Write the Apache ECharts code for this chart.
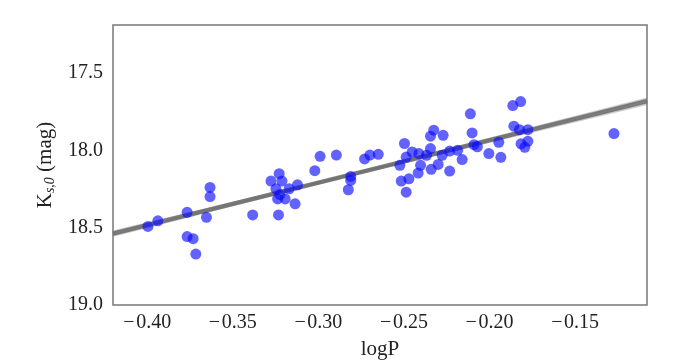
<!DOCTYPE html>
<html>
<head>
<meta charset="utf-8">
<script src="https://cdn.jsdelivr.net/npm/echarts@6/dist/echarts.min.js"></script>
<style>html,body{margin:0;padding:0;background:#fff;}#c{width:685px;height:363px;}</style>
</head>
<body>
<div id="c"></div>
<script>
// Data
const logP = [-0.3996,-0.3938,-0.3767,-0.3767,-0.3732,-0.3716,-0.3654,-0.3633,-0.3633,-0.3384,
  -0.3277,-0.3229,-0.3213,-0.3248,-0.3225,-0.3238,-0.3194,-0.3171,-0.3122,-0.3136,
  -0.3233,-0.3021,-0.2990,-0.2895,-0.2811,-0.2811,-0.2825,-0.2730,-0.2699,-0.2650,
  -0.2524,-0.2497,-0.2487,-0.2516,-0.2471,-0.2487,-0.2452,-0.2413,-0.2403,-0.2417,
  -0.2368,-0.2345,-0.2345,-0.2326,-0.2271,-0.2341,-0.2300,-0.2277,-0.2233,-0.2233,
  -0.2186,-0.2160,-0.2112,-0.2102,-0.2091,-0.2071,-0.2004,-0.1946,-0.1934,-0.1864,
  -0.1818,-0.1858,-0.1825,-0.1776,-0.1776,-0.1816,-0.1794,-0.1273];
const Ks0 = [18.492,18.456,18.401,18.558,18.571,18.671,18.433,18.240,18.299,18.418,
  18.199,18.151,18.199,18.249,18.286,18.314,18.314,18.249,18.223,18.346,
  18.418,18.132,18.039,18.031,18.169,18.195,18.255,18.056,18.031,18.026,
  18.097,17.956,18.044,18.199,18.184,18.271,18.011,18.021,18.097,18.147,
  18.032,17.989,17.909,17.870,17.903,18.123,18.091,18.032,18.005,18.134,
  18.000,18.060,17.764,17.888,17.964,17.977,18.021,17.948,18.045,17.711,
  17.685,17.844,17.867,17.867,17.942,17.958,17.981,17.892];
const fitX = [-0.42, -0.108];
const fitY = [18.539, 17.682];
const fitLowY = [18.550, 17.668];
const fitHighY = [18.528, 17.698];
const xTicks = [-0.40, -0.35, -0.30, -0.25, -0.20, -0.15];
const yTicks = [17.5, 18.0, 18.5, 19.0];

const pts = logP.map((x, i) => [x, Ks0[i]]);
const pair = (ys) => fitX.map((x, i) => [x, ys[i]]);

const FONT = 'Liberation Serif';
const chart = echarts.init(document.getElementById('c'), null, {renderer: 'canvas'});
chart.setOption({
  animation: false,
  backgroundColor: '#fff',
  grid: {left: 113, right: 38, top: 25, bottom: 58, show: true, borderColor: '#777', borderWidth: 1.5,
         backgroundColor: 'transparent', containLabel: false, outerBoundsMode: 'none'},
  xAxis: {
    type: 'value', min: -0.42, max: -0.108,
    axisLine: {show: false}, axisTick: {show: false}, splitLine: {show: false},
    axisLabel: {
      customValues: xTicks, margin: 8, color: '#222', fontFamily: FONT, fontSize: 20,
      formatter: v => '\u2212\u200A' + Math.abs(v).toFixed(2)
    },
    name: 'logP', nameLocation: 'middle', nameGap: 34,
    nameTextStyle: {fontFamily: FONT, fontSize: 21, color: '#222'}
  },
  yAxis: {
    type: 'value', inverse: true, min: 17.19, max: 19.0,
    axisLine: {show: false}, axisTick: {show: false}, splitLine: {show: false},
    axisLabel: {
      customValues: yTicks, margin: 10, color: '#222', fontFamily: FONT, fontSize: 20,
      formatter: v => v.toFixed(1)
    },
    name: '{a|K}{s|s,0}{a| (mag)}', nameLocation: 'middle', nameGap: 56, nameRotate: 90,
    nameTextStyle: {
      fontFamily: FONT, fontSize: 21, color: '#222',
      rich: {
        a: {fontFamily: FONT, fontSize: 21, color: '#222'},
        s: {fontFamily: FONT, fontSize: 14, color: '#222', fontStyle: 'italic', padding: [9, 0, 0, 0]}
      }
    }
  },
  series: [
    {type: 'line', data: pair(fitLowY), symbol: 'none', silent: true, z: 1,
     lineStyle: {color: 'rgba(140,140,140,0.45)', width: 3}},
    {type: 'line', data: pair(fitHighY), symbol: 'none', silent: true, z: 1,
     lineStyle: {color: 'rgba(140,140,140,0.45)', width: 3}},
    {type: 'line', data: pair(fitY), symbol: 'none', silent: true, z: 2,
     lineStyle: {color: 'rgba(105,105,105,0.85)', width: 4.5}},
    {type: 'scatter', data: pts, symbolSize: 11, z: 3,
     itemStyle: {color: 'rgba(10,10,255,0.8)'}}
  ]
});
</script>
</body>
</html>
